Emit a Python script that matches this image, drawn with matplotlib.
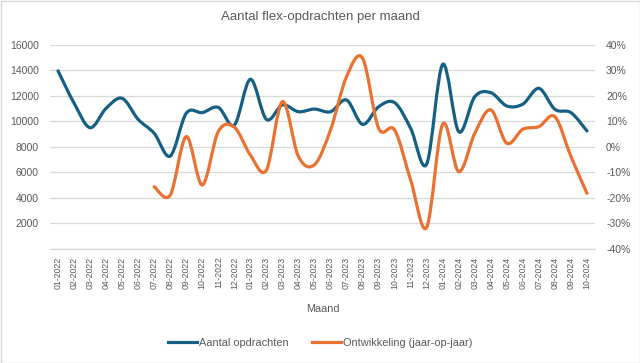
import numpy as np
import matplotlib
matplotlib.use("Agg")
import matplotlib.pyplot as plt
from matplotlib.path import Path
from matplotlib.patches import PathPatch, Rectangle
from matplotlib.lines import Line2D
from matplotlib.ticker import FuncFormatter, MultipleLocator

plt.rcParams['font.family'] = ['Liberation Sans', 'DejaVu Sans']

months = ["01-2022", "02-2022", "03-2022", "04-2022", "05-2022", "06-2022", "07-2022", "08-2022",
          "09-2022", "10-2022", "11-2022", "12-2022", "01-2023", "02-2023", "03-2023", "04-2023",
          "05-2023", "06-2023", "07-2023", "08-2023", "09-2023", "10-2023", "11-2023", "12-2023",
          "01-2024", "02-2024", "03-2024", "04-2024", "05-2024", "06-2024", "07-2024", "08-2024",
          "09-2024", "10-2024"]
aantal = [13950, 11430, 9500, 11020, 11800, 10150, 9060, 7280, 10630, 10680, 11090, 9710,
          13290, 10150, 11280, 10750, 10960, 10750, 11670, 9760, 11140, 11460, 9450, 6660,
          14460, 9190, 11930, 12240, 11200, 11350, 12580, 10940, 10680, 9240]
ontwikkeling = [None, None, None, None, None, None, -15.6, -18.9, 4.0, -14.9, 6.0, 7.7,
                -3.2, -9.1, 17.7, -3.8, -7.0, 6.6, 27.5, 34.7, 7.3, 6.6, -13.0, -31.5,
                8.9, -9.7, 5.3, 14.5, 1.4, 6.9, 7.9, 11.8, -3.8, -18.2]

BLUE = "#156082"
ORANGE = "#E97132"
TXT = "#595959"
GRID = "#D9D9D9"


def smooth_path(xs, ys):
    pts = [(x, y) for x, y in zip(xs, ys) if y is not None]
    P = np.array(pts, dtype=float)
    n = len(P)
    verts = [P[0]]
    codes = [Path.MOVETO]
    for i in range(n - 1):
        p0 = P[i - 1] if i > 0 else P[i]
        p1 = P[i]
        p2 = P[i + 1]
        p3 = P[i + 2] if i + 2 < n else P[i + 1]
        c1 = p1 + (p2 - p0) / 6.0
        c2 = p2 - (p3 - p1) / 6.0
        verts += [c1, c2, p2]
        codes += [Path.CURVE4] * 3
    return Path(verts, codes)


fig = plt.figure(figsize=(6.4, 3.63), dpi=100)
ax = fig.add_axes([50 / 640, 1 - 249 / 363, 545 / 640, 204.3 / 363])
ax2 = ax.twinx()

x = np.arange(len(months))
ax.set_xlim(-0.5, len(months) - 0.5)
ax.set_ylim(0, 16000)
ax2.set_ylim(-40, 40)

pb = smooth_path(x, aantal)
ax.add_patch(PathPatch(pb, facecolor='none', edgecolor=BLUE, lw=2.3, capstyle='round', zorder=3))
po = smooth_path(x, ontwikkeling)
ax2.add_patch(PathPatch(po, facecolor='none', edgecolor=ORANGE, lw=2.3, capstyle='round', zorder=3))

ax.yaxis.set_major_locator(MultipleLocator(2000))
ax.yaxis.set_major_formatter(FuncFormatter(lambda v, p: "" if v == 0 else f"{int(v)}"))
ax2.yaxis.set_major_locator(MultipleLocator(10))
ax2.yaxis.set_major_formatter(FuncFormatter(lambda v, p: f"{int(round(v))}%"))

ax.grid(axis='y', color=GRID, lw=0.9)
ax.set_axisbelow(True)
for a in (ax, ax2):
    for s in a.spines.values():
        s.set_visible(False)
ax.spines['bottom'].set_visible(True)
ax.spines['bottom'].set_color(GRID)
ax.spines['bottom'].set_linewidth(0.9)

ax.set_xticks(x)
ax.set_xticklabels(months, rotation=90, fontsize=6.3, color=TXT)
ax.tick_params(axis='x', length=0, pad=5.5)
ax.tick_params(axis='y', length=0, pad=8, labelsize=7.5, labelcolor=TXT)
ax2.tick_params(axis='y', length=0, pad=8, labelsize=7.5, labelcolor=TXT)

ax.set_xlabel("Maand", fontsize=7.8, color=TXT)
ax.xaxis.set_label_coords(0.5, -(304 - 249) / 204.3)

fig.text(0.5, 1 - 17 / 363, "Aantal flex-opdrachten per maand", ha='center', va='center',
         fontsize=9.5, color=TXT)

handles = [Line2D([0], [0], color=BLUE, lw=2.3), Line2D([0], [0], color=ORANGE, lw=2.3)]
fig.legend(handles, ["Aantal opdrachten", "Ontwikkeling (jaar-op-jaar)"], loc='center',
           bbox_to_anchor=(0.5, 1 - 343 / 363), ncol=2, frameon=False, fontsize=7.9,
           labelcolor=TXT, handlelength=2.65, handletextpad=0.2, columnspacing=2.1)

fig.patches.append(Rectangle((0.5 / 640, 0.5 / 363), 1 - 1 / 640, 1 - 1 / 363,
                             transform=fig.transFigure, fill=False, edgecolor=GRID, lw=1))

fig.savefig("out.png", dpi=100)
